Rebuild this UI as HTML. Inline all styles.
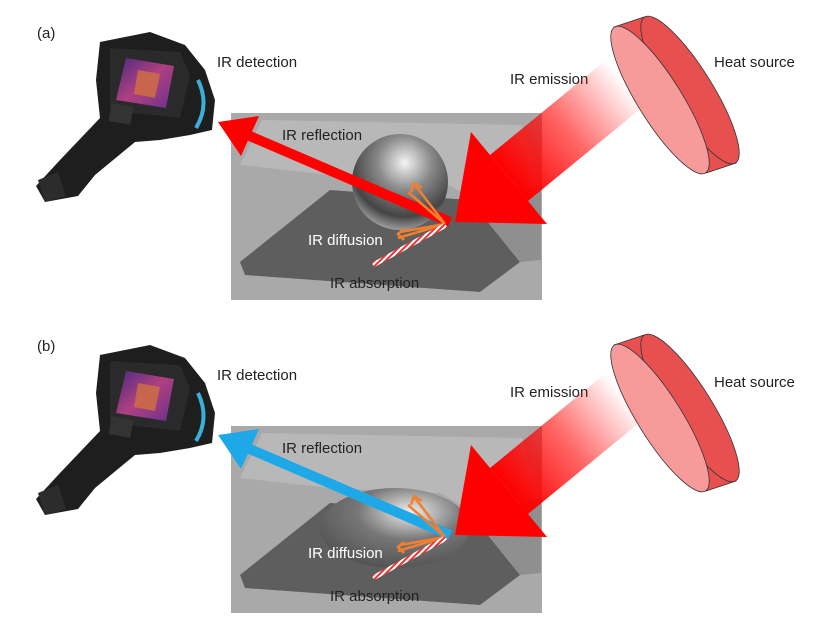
<!DOCTYPE html>
<html><head><meta charset="utf-8"><style>
html,body{margin:0;padding:0;background:#fff}
svg{display:block}
text{font-family:"Liberation Sans",sans-serif;font-size:15px;fill:#222}
</style></head><body>
<svg width="814" height="624" viewBox="0 0 814 624" xmlns="http://www.w3.org/2000/svg">
<defs>
<linearGradient id="beam" gradientUnits="userSpaceOnUse" x1="625" y1="83" x2="509" y2="178">
<stop offset="0" stop-color="#ff0000" stop-opacity="0"/>
<stop offset="0.5" stop-color="#ff0000" stop-opacity="0.6"/>
<stop offset="1" stop-color="#ff0000"/>
</linearGradient>
<radialGradient id="sph" cx="0.55" cy="0.3" r="0.7">
<stop offset="0" stop-color="#f4f4f4"/><stop offset="0.4" stop-color="#8a8a8a"/><stop offset="0.8" stop-color="#444"/><stop offset="1" stop-color="#999"/>
</radialGradient>
<radialGradient id="flat" cx="0.6" cy="0.3" r="0.7">
<stop offset="0" stop-color="#eee"/><stop offset="0.5" stop-color="#777"/><stop offset="1" stop-color="#555"/>
</radialGradient>
<linearGradient id="scr" x1="0" y1="0" x2="1" y2="1">
<stop offset="0" stop-color="#4a2a80"/><stop offset="0.5" stop-color="#b04080"/><stop offset="1" stop-color="#6a3090"/>
</linearGradient>
<pattern id="hatch" width="4" height="4" patternUnits="userSpaceOnUse" patternTransform="rotate(45)">
<rect width="2" height="4" fill="#e33"/><rect x="2" width="2" height="4" fill="#fff"/>
</pattern>
<g id="cam">
<path d="M100,42 L150,32 L185,45 L205,70 L215,100 L212,130 L190,135 L160,140 L135,142 L95,175 L78,196 L45,202 L36,186 L60,160 L100,118 L96,80 Z" fill="#1e1e1e"/>
<path d="M110,48 L180,52 L190,75 L180,118 L110,110 Z" fill="#2a2a2a"/>
<polygon points="126,58 174,66 166,108 116,100" fill="url(#scr)"/>
<polygon points="138,70 160,74 155,98 134,94" fill="#d07040" opacity="0.8"/>
<path d="M198,80 Q210,105 196,128" stroke="#3ab0d8" stroke-width="4" fill="none"/>
<rect x="110" y="105" width="22" height="18" fill="#333" transform="rotate(10 121 114)"/>
<path d="M38,180 L58,172 L66,196 L45,202 Z" fill="#2c2c2c"/>
</g>
<g id="heat">
<polygon points="614,27 644,17 736,163 706,173" fill="#e85050" stroke="#333" stroke-width="0.8"/>
<ellipse cx="690" cy="90" rx="22" ry="86" transform="rotate(-32 690 90)" fill="#e85050" stroke="#333" stroke-width="0.8"/>
<ellipse cx="660" cy="100" rx="22" ry="86" transform="rotate(-32 660 100)" fill="#f79a9a" stroke="#333" stroke-width="0.8"/>
</g>
<g id="scene">
<rect x="231" y="113" width="311" height="187" fill="#a9a9a9"/>
<polygon points="240,165 262,120 522,125 541,185 500,215 440,180 330,175" fill="#b8b8b8"/>
<polygon points="240,262 330,190 470,200 520,262 480,292 245,275" fill="#5e5e5e"/>
<polygon points="470,200 541,185 541,260 520,262" fill="#8f8f8f"/>
</g>
<g id="fx">
<polygon points="528,201 490,155 606,60 644,106" fill="url(#beam)"/>
<polygon points="455,222 471,132 547,224" fill="#ff0000"/>
</g>
<g id="diff">
<g stroke="#f08030" stroke-width="2.5" fill="none">
<line x1="445" y1="224" x2="415" y2="185"/><line x1="445" y1="224" x2="408" y2="192"/>
<line x1="445" y1="224" x2="400" y2="232"/><line x1="445" y1="224" x2="398" y2="238"/>
<polyline points="411,192 414,183 422,188"/><polyline points="404,229 398,234 404,240"/>
</g>
<line x1="446" y1="225" x2="373" y2="265" stroke="url(#hatch)" stroke-width="5"/>
<text x="282" y="140">IR reflection</text>
<text x="308" y="245" style="fill:#fff">IR diffusion</text>
<text x="330" y="288">IR absorption</text>
</g>
</defs>

<!-- Panel a -->
<text x="37" y="38">(a)</text>
<use href="#cam"/>
<text x="217" y="67">IR detection</text>
<text x="510" y="84">IR emission</text>
<text x="714" y="67">Heat source</text>
<use href="#heat"/>
<use href="#scene"/>
<circle cx="400" cy="182" r="48" fill="url(#sph)"/>
<use href="#fx"/>
<line x1="450" y1="222" x2="245" y2="134" stroke="#ff0000" stroke-width="10"/>
<polygon points="218,122 259,116 241,156" fill="#ff0000"/>
<use href="#diff"/>

<!-- Panel b -->
<g transform="translate(0,313)">
<text x="37" y="38">(b)</text>
<use href="#cam"/>
<text x="217" y="67">IR detection</text>
<text x="510" y="84">IR emission</text>
<text x="714" y="74">Heat source</text>
<use href="#heat" transform="translate(0,5)"/>
<use href="#scene"/>
<ellipse cx="395" cy="215" rx="75" ry="40" fill="url(#flat)"/>
<use href="#fx"/>
<line x1="450" y1="222" x2="245" y2="134" stroke="#1ea8e8" stroke-width="10"/>
<polygon points="218,122 259,116 241,156" fill="#1ea8e8"/>
<use href="#diff"/>
</g>
</svg>
</body></html>
